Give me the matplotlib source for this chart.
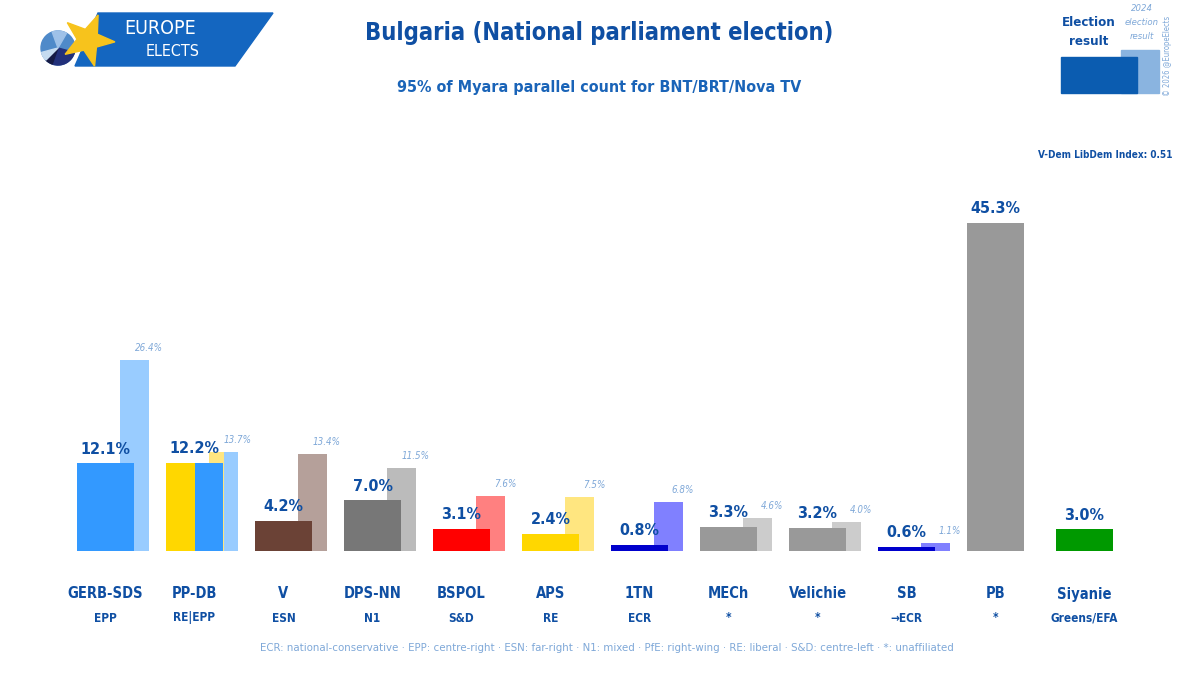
import matplotlib
matplotlib.use("Agg")
import matplotlib.pyplot as plt
from matplotlib.patches import Polygon, Rectangle, Wedge
import numpy as np

# --- data -------------------------------------------------------------------
parties = ["GERB-SDS", "PP-DB", "V", "DPS-NN", "BSPOL", "APS", "1TN", "MECh",
           "Velichie", "SB", "PB", "Siyanie"]
groups = ["EPP", "RE|EPP", "ESN", "N1", "S&D", "RE", "ECR", "*", "*", "→ECR", "*",
          "Greens/EFA"]
result = [12.1, 12.2, 4.2, 7.0, 3.1, 2.4, 0.8, 3.3, 3.2, 0.6, 45.3, 3.0]
prev_2024 = [26.4, 13.7, 13.4, 11.5, 7.6, 7.5, 6.8, 4.6, 4.0, 1.1, None, None]
colors = ["#3399FF", ("#FFD700", "#3399FF"), "#6B4236", "#777777", "#FF0000",
          "#FFD700", "#0000CC", "#999999", "#999999", "#0000CC", "#999999", "#009900"]
prev_colors = ["#99CCFF", ("#FFE680", "#99CCFF"), "#B5A09A", "#BBBBBB", "#FF8080",
               "#FFE680", "#8080FF", "#CCCCCC", "#CCCCCC", "#8080FF", None, None]
footnote = ("ECR: national-conservative · EPP: centre-right · ESN: far-right · N1: mixed · "
            "PfE: right-wing · RE: liberal · S&D: centre-left · *: unaffiliated")

DARK = "#0F4FA3"
LIGHT = "#7FA8D8"
FONT = "DejaVu Sans"
ST = "condensed"

W, H = 1199, 691
fig = plt.figure(figsize=(W / 100, H / 100), dpi=100)

# overlay in pixel coordinates for logo / legend decoration
deco = fig.add_axes([0, 0, 1, 1])
deco.set_xlim(0, W)
deco.set_ylim(H, 0)
deco.axis("off")

# bars: 89 px per party, 7.24 px per percentage point, baseline at y=551
SP, PX = 89.0, 7.24
ax = fig.add_axes([0, (H - 551) / H, 1, 451 / H])
ax.set_xlim(-105.5 / SP, (W - 105.5) / SP)
ax.set_ylim(0, 451 / PX)
ax.axis("off")

bw = 57 / SP
pw = 29 / SP
poff = 29 / SP
for i, (v, p) in enumerate(zip(result, prev_2024)):
    if p is not None:
        pc = prev_colors[i]
        if isinstance(pc, tuple):
            ax.bar(i + poff - pw / 4, p, width=pw / 2, color=pc[0], zorder=1)
            ax.bar(i + poff + pw / 4, p, width=pw / 2, color=pc[1], zorder=1)
        else:
            ax.bar(i + poff, p, width=pw, color=pc, zorder=1)
        # 2024 label sits centred on the right edge of the old bar
        ax.annotate(f"{p:.1f}%", (i + poff + pw / 2, p), xytext=(0, 6.5),
                    textcoords="offset points", ha="center", va="baseline", fontsize=7,
                    style="italic", color=LIGHT, family=FONT, stretch=ST)
    c = colors[i]
    if isinstance(c, tuple):
        ax.bar(i - bw / 4, v, width=bw / 2, color=c[0], zorder=2)
        ax.bar(i + bw / 4, v, width=bw / 2, color=c[1], zorder=2)
    else:
        ax.bar(i, v, width=bw, color=c, zorder=2)
    ax.annotate(f"{v:.1f}%", (i, v), xytext=(0, 7), textcoords="offset points",
                ha="center", va="baseline", fontsize=11.5, fontweight="bold",
                color=DARK, family=FONT, stretch=ST, zorder=3)

trans = matplotlib.transforms.blended_transform_factory(ax.transData, fig.transFigure)
for i, (n, g) in enumerate(zip(parties, groups)):
    ax.text(i, (H - 594) / H, n, transform=trans, ha="center", va="center",
            fontsize=10.5, fontweight="bold", color=DARK, family=FONT, stretch=ST)
    ax.text(i, (H - 618) / H, g, transform=trans, ha="center", va="center",
            fontsize=8.5, fontweight="bold", color=DARK, family=FONT, stretch=ST)

# titles
deco.text(599, 33, "Bulgaria (National parliament election)", ha="center", va="center",
          fontsize=17, fontweight="bold", color=DARK, family=FONT, stretch=ST)
deco.text(599, 87, "95% of Myara parallel count for BNT/BRT/Nova TV", ha="center",
          va="center", fontsize=11.5, fontweight="bold", color="#1A64B8", family=FONT,
          stretch=ST)
deco.text(607, 648, footnote, ha="center", va="center", fontsize=8.2, color=LIGHT,
          family=FONT, stretch=ST)
deco.text(1172, 155, "V-Dem LibDem Index: 0.51", ha="right", va="center", fontsize=7.2,
          fontweight="bold", color=DARK, family=FONT, stretch=ST)

# legend box, top right
deco.add_patch(Rectangle((1121, 50), 38, 43, color="#8AB4E0", zorder=1))
deco.add_patch(Rectangle((1061, 57), 76, 36, color="#0B5CB0", zorder=2))
deco.text(1089, 22, "Election", ha="center", va="center", fontsize=9.5, fontweight="bold",
          color=DARK, family=FONT, stretch=ST)
deco.text(1089, 41, "result", ha="center", va="center", fontsize=9.5, fontweight="bold",
          color=DARK, family=FONT, stretch=ST)
for k, t in enumerate(["2024", "election", "result"]):
    deco.text(1142, 8 + 14 * k, t, ha="center", va="center", fontsize=6.8, style="italic",
              color=LIGHT, family=FONT, stretch=ST)
deco.text(1168, 56, "© 2026 @EuropeElects", rotation=90, ha="center", va="center",
          fontsize=5.5, color=LIGHT, family=FONT, stretch=ST)

# Europe Elects logo (y axis points down here, so wedge angle 90 = bottom)
deco.add_patch(Polygon([(98, 13), (273, 13), (235, 66), (75, 66)], color="#1466C0", zorder=1))
deco.add_patch(Wedge((58, 48), 17, 0, 360, color="#4F8AC9", zorder=2))
deco.add_patch(Wedge((58, 48), 17, 15, 110, color="#22307A", zorder=3))
deco.add_patch(Wedge((58, 48), 17, 110, 135, color="#151A45", zorder=3))
deco.add_patch(Wedge((58, 48), 17, 135, 165, color="#C5DBF0", zorder=3))
deco.add_patch(Wedge((58, 48), 17, 250, 300, color="#9EC1E8", zorder=3))
ang = np.deg2rad(68 + np.arange(10) * 36)
rad = np.where(np.arange(10) % 2 == 0, 27, 11)
star = np.column_stack([88 + rad * np.cos(ang), 40 - rad * np.sin(ang)])
deco.add_patch(Polygon(star, color="#F7C31C", zorder=4))
deco.text(160, 28, "EUROPE", ha="center", va="center", fontsize=14, color="white",
          family=FONT, stretch=ST, zorder=5)
deco.text(173, 51, "ELECTS", ha="center", va="center", fontsize=11.5, color="white",
          family=FONT, stretch=ST, zorder=5)

fig.savefig("out.png", dpi=100)
